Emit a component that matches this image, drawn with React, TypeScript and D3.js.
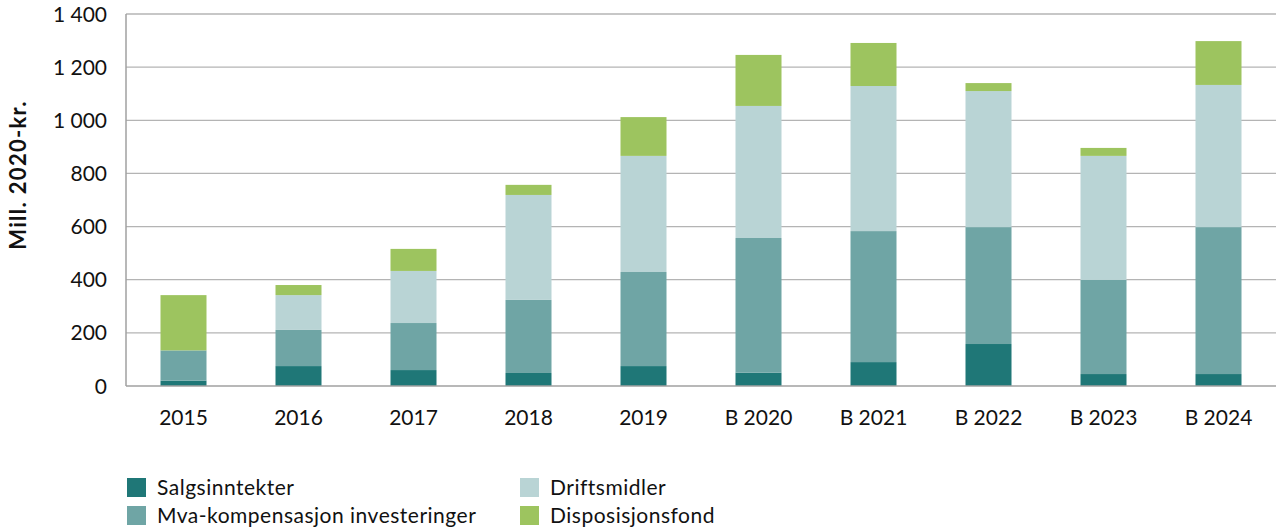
import * as d3 from "d3";

const categories = ["2015", "2016", "2017", "2018", "2019", "B 2020", "B 2021", "B 2022", "B 2023", "B 2024"];
const seriesNames = ["Salgsinntekter", "Mva-kompensasjon investeringer", "Driftsmidler", "Disposisjonsfond"];
const salgsinntekter = [20, 75, 60, 49, 75, 50, 90, 158, 45, 45];
const mvaKompensasjon = [114, 136, 177, 275, 354, 507, 493, 440, 354, 553];
const driftsmidler = [0, 131, 196, 395, 437, 497, 546, 512, 467, 535];
const disposisjonsfond = [208, 38, 83, 38, 146, 192, 162, 30, 30, 165];
const yTicks = [0, 200, 400, 600, 800, 1000, 1200, 1400];

const COLORS = ["#1f7777", "#6fa5a5", "#b9d4d5", "#9dc45f"];
const WIDTH = 1277;
const HEIGHT = 529;
const MARGIN = { top: 14, right: 1, bottom: 143, left: 126 };
const FONT = "Lato, 'Open Sans', sans-serif";

type Row = { cat: string; [k: string]: number | string };

export default function App() {
  const innerWidth = WIDTH - MARGIN.left - MARGIN.right;
  const innerHeight = HEIGHT - MARGIN.top - MARGIN.bottom;

  const rows: Row[] = categories.map((cat, i) => ({
    cat,
    s0: salgsinntekter[i],
    s1: mvaKompensasjon[i],
    s2: driftsmidler[i],
    s3: disposisjonsfond[i],
  }));
  const stacked = d3.stack<Row>().keys(["s0", "s1", "s2", "s3"])(rows);

  const x = d3.scaleBand().domain(categories).range([0, innerWidth]).paddingInner(0.6).paddingOuter(0.3);
  const y = d3.scaleLinear().domain([0, 1400]).range([innerHeight, 0]);
  const fmt = (v: number) => d3.format(",")(v).replace(/,/g, " ");

  const legend = [
    { i: 0, x: 127, y: 478 },
    { i: 1, x: 127, y: 506 },
    { i: 2, x: 520, y: 478 },
    { i: 3, x: 520, y: 506 },
  ];

  return (
    <svg width={WIDTH} height={HEIGHT} style={{ display: "block", position: "absolute", left: 0, top: 0 }} fontFamily={FONT}>
      <rect width={WIDTH} height={HEIGHT} fill="#fff" />
      <g transform={`translate(${MARGIN.left},${MARGIN.top})`}>
        {yTicks.map((t) => (
          <g key={t}>
            {t > 0 && <line x1={0} x2={innerWidth} y1={y(t)} y2={y(t)} stroke="#b4b4b4" strokeWidth={1.3} />}
            <text x={-19} y={y(t)} dy="0.36em" textAnchor="end" fontSize={21} fill="#111">
              {fmt(t)}
            </text>
          </g>
        ))}
        {stacked.map((layer, li) => (
          <g key={li} fill={COLORS[li]}>
            {layer.map((d) => (
              <rect
                key={d.data.cat}
                x={x(d.data.cat)}
                y={y(d[1])}
                width={x.bandwidth()}
                height={Math.max(0, y(d[0]) - y(d[1]))}
              />
            ))}
          </g>
        ))}
        <line x1={0} x2={0} y1={0} y2={innerHeight} stroke="#a0a0a0" strokeWidth={1.5} />
        <line x1={0} x2={innerWidth} y1={innerHeight} y2={innerHeight} stroke="#a0a0a0" strokeWidth={1.5} />
        {categories.map((c) => (
          <text key={c} x={(x(c) ?? 0) + x.bandwidth() / 2} y={innerHeight + 39} textAnchor="middle" fontSize={21} fill="#111">
            {c}
          </text>
        ))}
      </g>
      <text
        transform={`translate(26,${MARGIN.top + 161}) rotate(-90)`}
        textAnchor="middle"
        fontSize={22}
        fontWeight="bold"
        letterSpacing={1.3}
        fill="#111"
      >
        Mill. 2020-kr.
      </text>
      {legend.map((l) => (
        <g key={l.i}>
          <rect x={l.x} y={l.y} width={19} height={19} fill={COLORS[l.i]} />
          <text x={l.x + 30} y={l.y + 17} fontSize={21} letterSpacing={0.5} fill="#111">
            {seriesNames[l.i]}
          </text>
        </g>
      ))}
    </svg>
  );
}
